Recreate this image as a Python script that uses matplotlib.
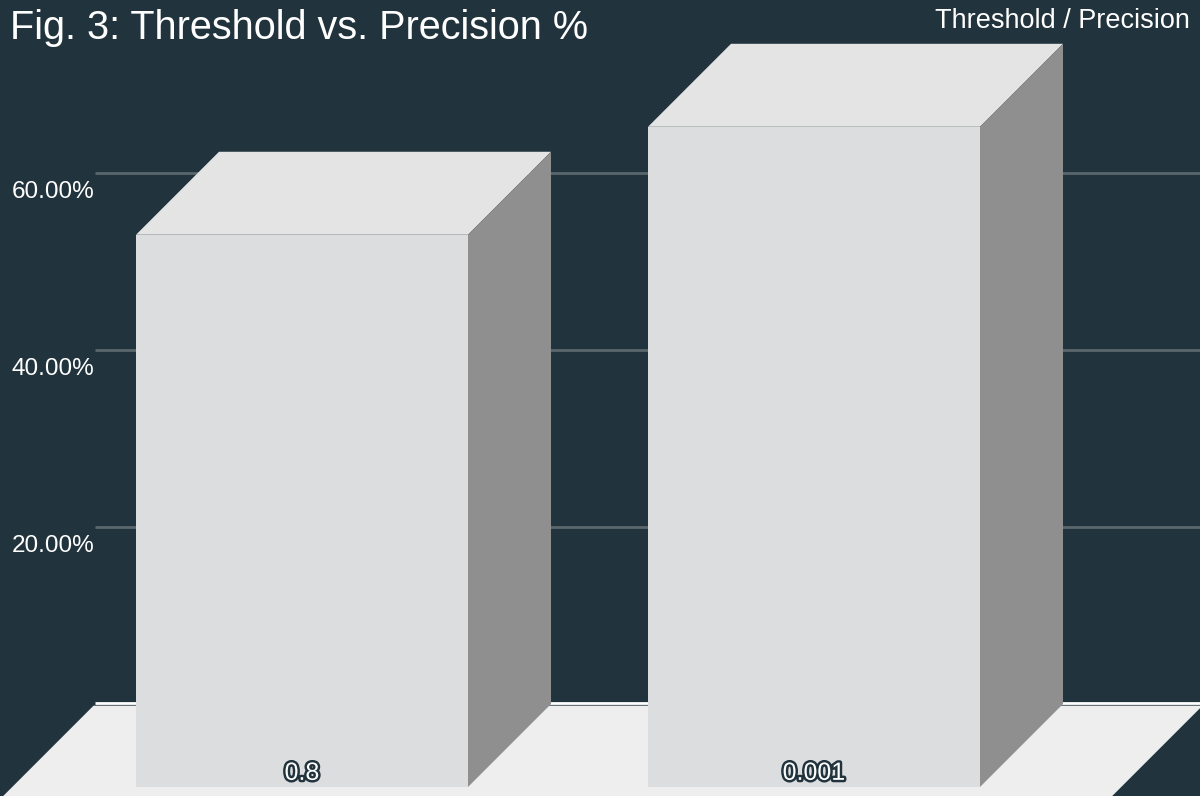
import matplotlib
matplotlib.use('Agg')
import matplotlib.pyplot as plt
from matplotlib.patches import Polygon
import matplotlib.patheffects as pe

# data
categories = ['0.8', '0.001']
precision = [62.4, 74.6]          # precision in %
grid_vals = [20, 40, 60, 80]
tick_labels = ['20.00%', '40.00%', '60.00%']

# colours
BG = '#21333c'
FRONT = '#dcdddf'
TOP = '#e3e4e3'
SIDE = '#8f8f8f'
FLOOR = '#eeeeee'
GRID = '#5a676d'

plt.rcParams['font.family'] = ['Liberation Sans', 'DejaVu Sans']

fig = plt.figure(figsize=(12, 7.96), dpi=100)
fig.patch.set_facecolor(BG)
ax = fig.add_axes([0, 0, 1, 1])
ax.set_facecolor(BG)
ax.axis('off')

# scale: 512 px per category, 8.85 px per percent
ax.set_xlim(-302 / 512, 898 / 512)
ax.set_ylim(-9 / 8.85, 787 / 8.85)

DX = 83 / 512      # depth offset in x units
DY = 83 / 8.85     # depth offset in y units
W = 332 / 512      # bar width
x = list(range(len(categories)))

# back wall gridlines
wall_l = -0.566
wall_r = 1.60
ax.hlines([v + DY for v in grid_vals], wall_l + DX, wall_r + DX + 0.2,
          color=GRID, lw=2, zorder=1)
ax.hlines(DY + 0.15, wall_l + DX, wall_r + DX + 0.2, color='white', lw=2, zorder=1)

# floor
t0, t1 = -0.5, 0.98
floor = Polygon([(wall_l + t1 * DX, t1 * DY), (wall_r + t1 * DX, t1 * DY),
                 (wall_r + t0 * DX, t0 * DY), (wall_l + t0 * DX, t0 * DY)],
                closed=True, facecolor=FLOOR, edgecolor='none', zorder=2)
ax.add_patch(floor)

# bars: front face via bar(), top and side faces as polygons
ax.bar(x, precision, width=W, bottom=0, color=FRONT, zorder=4, linewidth=0)
for xi, v in zip(x, precision):
    l, r = xi - W / 2, xi + W / 2
    top = Polygon([(l, v), (r, v), (r + DX, v + DY), (l + DX, v + DY)],
                  closed=True, facecolor=TOP, edgecolor='none', zorder=3)
    side = Polygon([(r, 0), (r + DX, DY), (r + DX, v + DY), (r, v)],
                   closed=True, facecolor=SIDE, edgecolor='none', zorder=3)
    ax.add_patch(top)
    ax.add_patch(side)

# category labels at the bar bottoms
for xi, c in zip(x, categories):
    ax.text(xi, 1.6, c, ha='center', va='center', fontsize=18, color='white',
            zorder=6, path_effects=[pe.withStroke(linewidth=3.5, foreground=BG)])

# y tick labels, sitting just under their gridlines
for v, lab in zip(grid_vals, tick_labels):
    ax.annotate(lab, xy=(0, v + DY), xycoords=('figure fraction', 'data'),
                xytext=(12, -19), textcoords='offset pixels',
                ha='left', va='center', fontsize=17.5, color='white', zorder=6)

fig.text(10 / 1200, 1 - 28 / 796, 'Fig. 3: Threshold vs. Precision %',
         ha='left', va='center', fontsize=28.5, color='white')
fig.text(1190 / 1200, 1 - 21 / 796, 'Threshold / Precision',
         ha='right', va='center', fontsize=19.5, color='white')

fig.savefig('out.png', dpi=100, facecolor=BG)
